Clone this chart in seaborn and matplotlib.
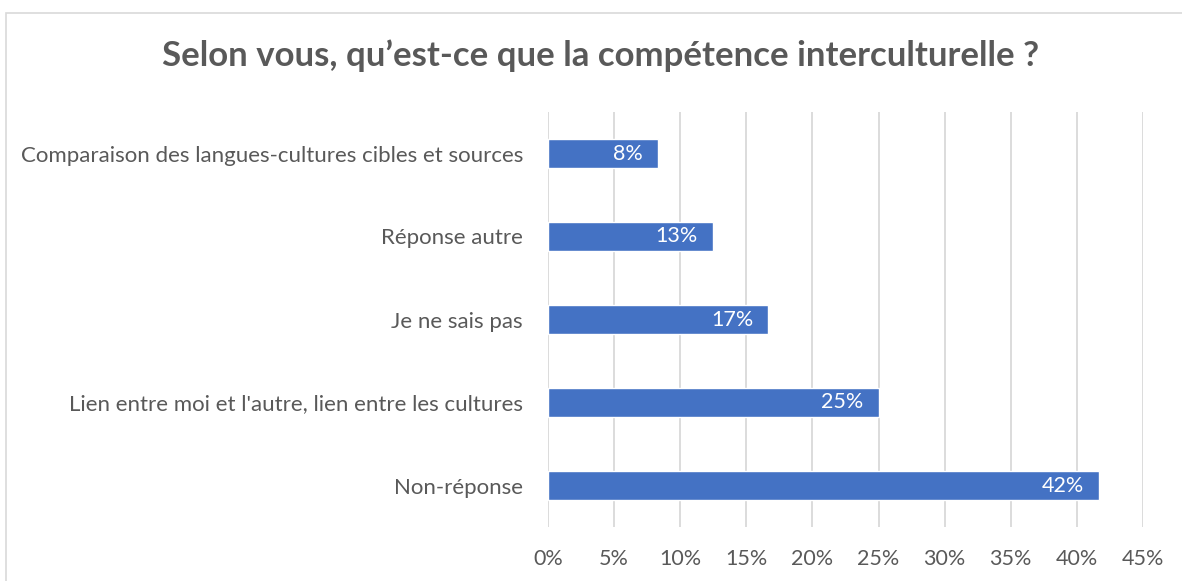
import matplotlib
matplotlib.use("Agg")
import matplotlib.pyplot as plt
import seaborn as sns
import pandas as pd
from matplotlib.patches import Rectangle
from matplotlib.ticker import FuncFormatter, MultipleLocator

categories = [
    "Comparaison des langues-cultures cibles et sources",
    "Réponse autre",
    "Je ne sais pas",
    "Lien entre moi et l'autre, lien entre les cultures",
    "Non-réponse",
]
values = [8.33, 12.5, 16.67, 25.0, 41.67]
labels = ["8%", "13%", "17%", "25%", "42%"]
title = "Selon vous, qu’est-ce que la compétence interculturelle ?"

sns.set_theme(style="white")
plt.rcParams["font.family"] = ["Lato", "DejaVu Sans"]

df = pd.DataFrame({"cat": categories, "val": values})

fig = plt.figure(figsize=(11.82, 5.81), dpi=100)
fig.patch.set_facecolor("white")
fig.patches.append(Rectangle((6 / 1182, -0.1), 1.2, 1 - 13 / 581 + 0.1,
                             transform=fig.transFigure, fill=False,
                             edgecolor="#D9D9D9", linewidth=1.2))
ax = fig.add_axes([548 / 1182, 1 - 527 / 581, 595 / 1182, 415 / 581])

sns.barplot(data=df, y="cat", x="val", orient="h", color="#4472C4",
            width=0.36, saturation=1, ax=ax, zorder=3)

ax.set_xlim(0, 45)
ax.xaxis.set_major_locator(MultipleLocator(5))
ax.xaxis.set_major_formatter(FuncFormatter(lambda v, p: f"{int(round(v))}%"))
ax.grid(axis="x", color="#D9D9D9", linewidth=1.3, zorder=0)
ax.grid(axis="y", visible=False)
for s in ax.spines.values():
    s.set_visible(False)
ax.set_xlabel("")
ax.set_ylabel("")
ax.tick_params(axis="x", length=0, pad=16, labelsize=15.5, labelcolor="#595959")
ax.tick_params(axis="y", length=0, pad=18, labelsize=16, labelcolor="#595959")

for i, (v, lab) in enumerate(zip(values, labels)):
    ax.annotate(lab, xy=(v, i), xytext=(-11, 0), textcoords="offset points",
                ha="right", va="center", color="white", fontsize=15.5, zorder=4)

fig.text(601 / 1182, 1 - 56 / 581, title, ha="center", va="center",
         fontsize=25, fontweight="bold", color="#595959")

fig.savefig("out.png", dpi=100)
